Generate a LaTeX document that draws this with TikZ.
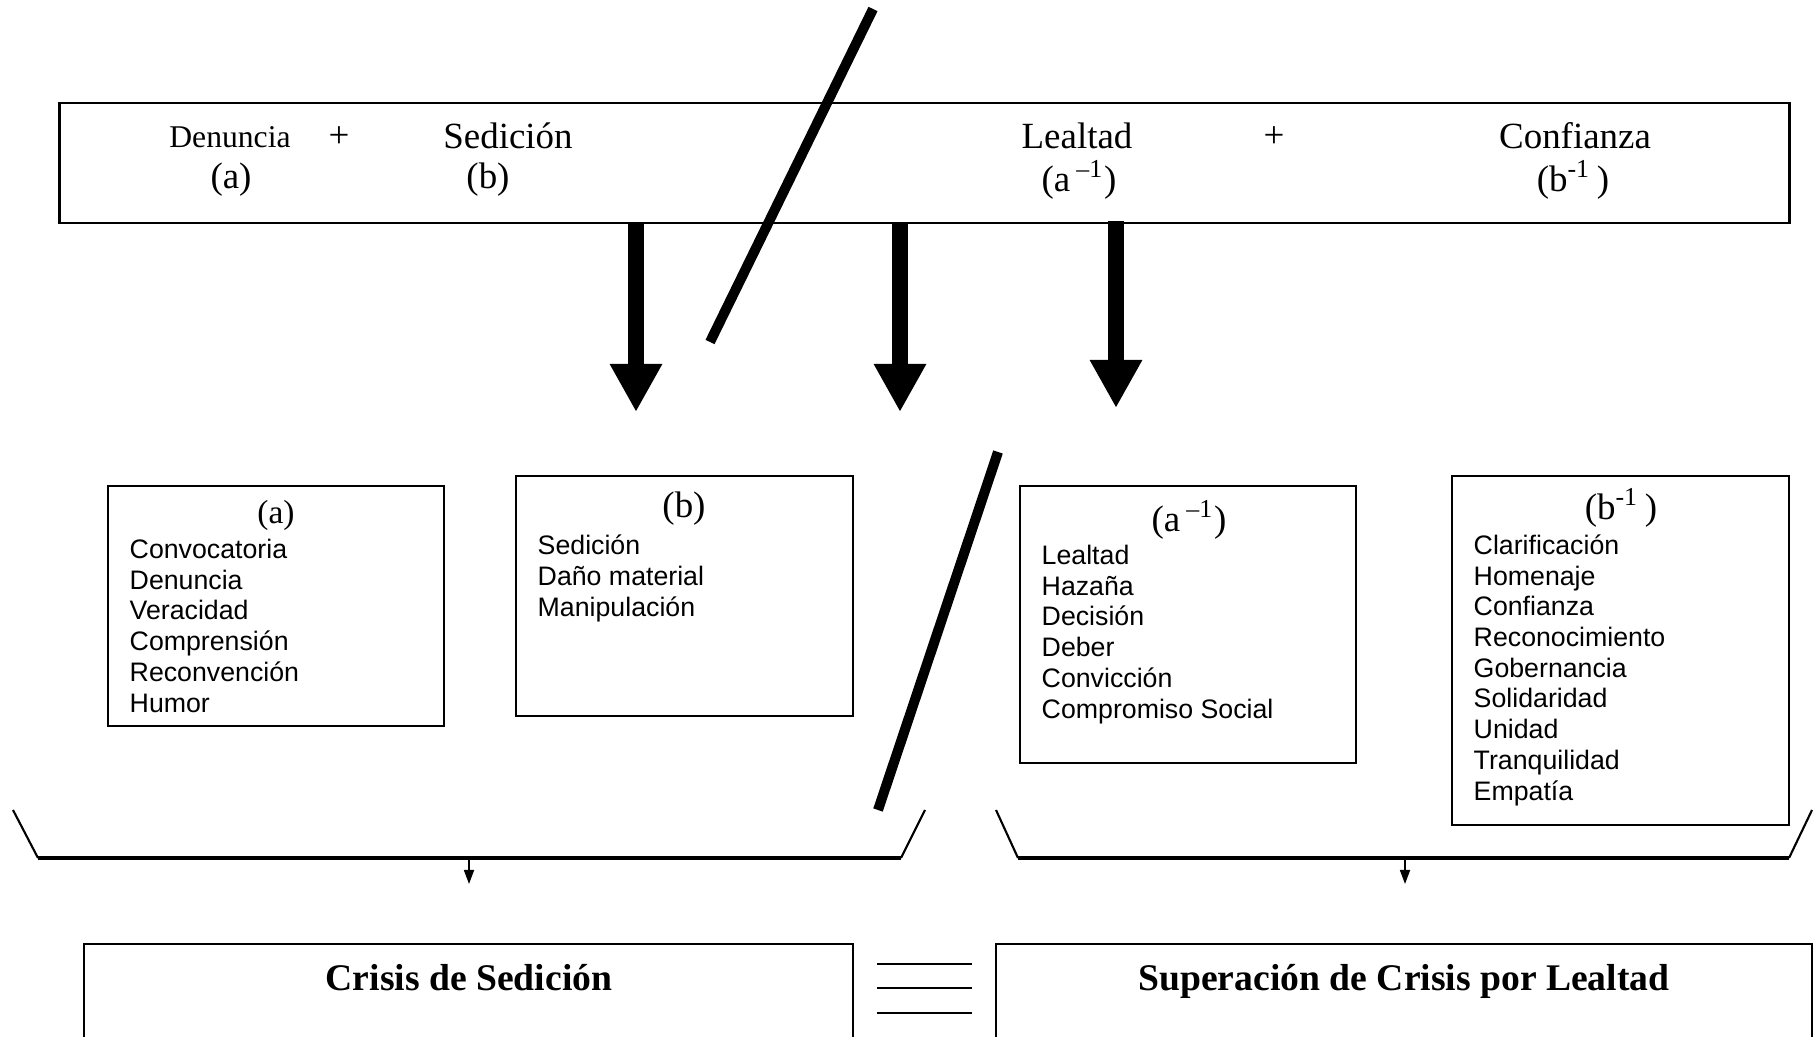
\documentclass[tikz,border=0pt]{standalone}
\usepackage{fontspec}
\setmainfont{Liberation Serif}
\newfontfamily\listafont{Liberation Sans}
\usetikzlibrary{arrows.meta, positioning, calc}

\begin{document}
\begin{tikzpicture}[
    x=0.01cm, y=-0.01cm,
    caja/.style={draw, line width=0.6pt, inner sep=0pt},
    encab/.style={inner sep=0pt, font=\fontsize{10.5}{12}\selectfont},
    lista/.style={anchor=base west, align=left, inner sep=0pt,
                  font=\listafont\fontsize{7.6}{8.73}\selectfont},
    titulo/.style={anchor=base, inner sep=0pt, font=\bfseries\fontsize{10.7}{13}\selectfont},
    flecha/.style={-{Triangle[length=0.48cm, width=0.49cm]}, line width=0.16cm},
    flechita/.style={-{Triangle[length=0.14cm, width=0.1cm]}, line width=0.5pt},
    barra/.style={line width=0.1cm},
    llave/.style={line width=0.6pt}
  ]
    \useasboundingbox (0,0) rectangle (1819,1037);

    \node[caja, minimum width=17.29cm, minimum height=1.2cm] (arriba) at (924.5,163) {};
    \node[encab, font=\fontsize{9}{11}\selectfont] (denuncia) at (230,137) {Denuncia};
    \node[encab] (mas1) at (339,137) {+};
    \node[encab] (sedicion) at (508,136) {Sedición};
    \node[encab] (a) at (231,180) {(a)};
    \node[encab] (b) at (488,180) {(b)};
    \node[encab] (lealtad) at (1077,136) {Lealtad};
    \node[encab] (ainv) at (1079,180) {(a\,\textsuperscript{–1})};
    \node[encab] (mas2) at (1274,137) {+};
    \node[encab] (confianza) at (1575,136) {Confianza};
    \node[encab] (binv) at (1573,180) {(b\textsuperscript{-1}\,)};

    \coordinate (puntaA) at (636,412);
    \coordinate (puntaB) at (900,412);
    \coordinate (puntaC) at (1116,408);
    \draw[flecha] (arriba.south -| puntaA) -- (puntaA);
    \draw[flecha] (arriba.south -| puntaB) -- (puntaB);
    \draw[flecha] ([yshift=0.03cm]arriba.south -| puntaC) -- (puntaC);

    \draw[barra] (873,9) -- (710,342);
    \draw[barra] (998,452) -- (878,810);

    \node[caja, minimum width=3.36cm, minimum height=2.40cm] (cajaa) at (276,606) {};
    \node[caja, minimum width=3.37cm, minimum height=2.40cm] (cajab) at (684.5,596) {};
    \node[caja, minimum width=3.36cm, minimum height=2.77cm] (cajaainv) at (1188,624.5) {};
    \node[caja, minimum width=3.37cm, minimum height=3.49cm] (cajabinv) at (1620.5,650.5) {};

    \node[encab, font=\fontsize{9.5}{11}\selectfont] (tita) at (276,515) {(a)};
    \node[encab] (titb) at (684,509) {(b)};
    \node[encab] (titainv) at (1189,520) {(a\,\textsuperscript{–1})};
    \node[encab] (titbinv) at (1621,508) {(b\textsuperscript{-1}\,)};

    % base = baseline of the last line
    \node[lista] (listaa) at (129,712) {Convocatoria\\Denuncia\\Veracidad\\Comprensión\\Reconvención\\Humor};
    \node[lista] (listab) at (537,616) {Sedición\\Daño material\\Manipulación};
    \node[lista] (listaainv) at (1041,718) {Lealtad\\Hazaña\\Decisión\\Deber\\Convicción\\Compromiso Social};
    \node[lista] (listabinv) at (1473,800) {Clarificación\\Homenaje\\Confianza\\Reconocimiento\\Gobernancia\\Solidaridad\\Unidad\\Tranquilidad\\Empatía};

    % llaves
    \draw[llave] (13,810) -- (38,858);
    \draw[llave] (901,858) -- (925,810);
    \draw[line width=1.1pt] (38,858) -- (901,858);
    \draw[llave] (996,810) -- (1018,858);
    \draw[llave] (1789,858) -- (1812,810);
    \draw[line width=1.1pt] (1018,858) -- (1789,858);

    \coordinate (llaveizq) at (469,858);
    \coordinate (finizq) at (469,884);
    \coordinate (llaveder) at (1405,858);
    \coordinate (finder) at (1405,884);
    \draw[flechita] (llaveizq) -- (finizq);
    \draw[flechita] (llaveder) -- (finder);

    \node[caja, minimum width=7.69cm, minimum height=2cm] (crisis) at (468.5,1044) {};
    \node[caja, minimum width=8.16cm, minimum height=2cm] (superacion) at (1404,1044) {};
    \node[titulo] (titcrisis) at (469,990) {Crisis de Sedición};
    \node[titulo] (titsuper) at (1404,990) {Superación de Crisis por Lealtad};

    \foreach \y in {964,988,1013}
      \draw[line width=0.6pt] (877,\y) -- (972,\y);
  \end{tikzpicture}
\end{document}
